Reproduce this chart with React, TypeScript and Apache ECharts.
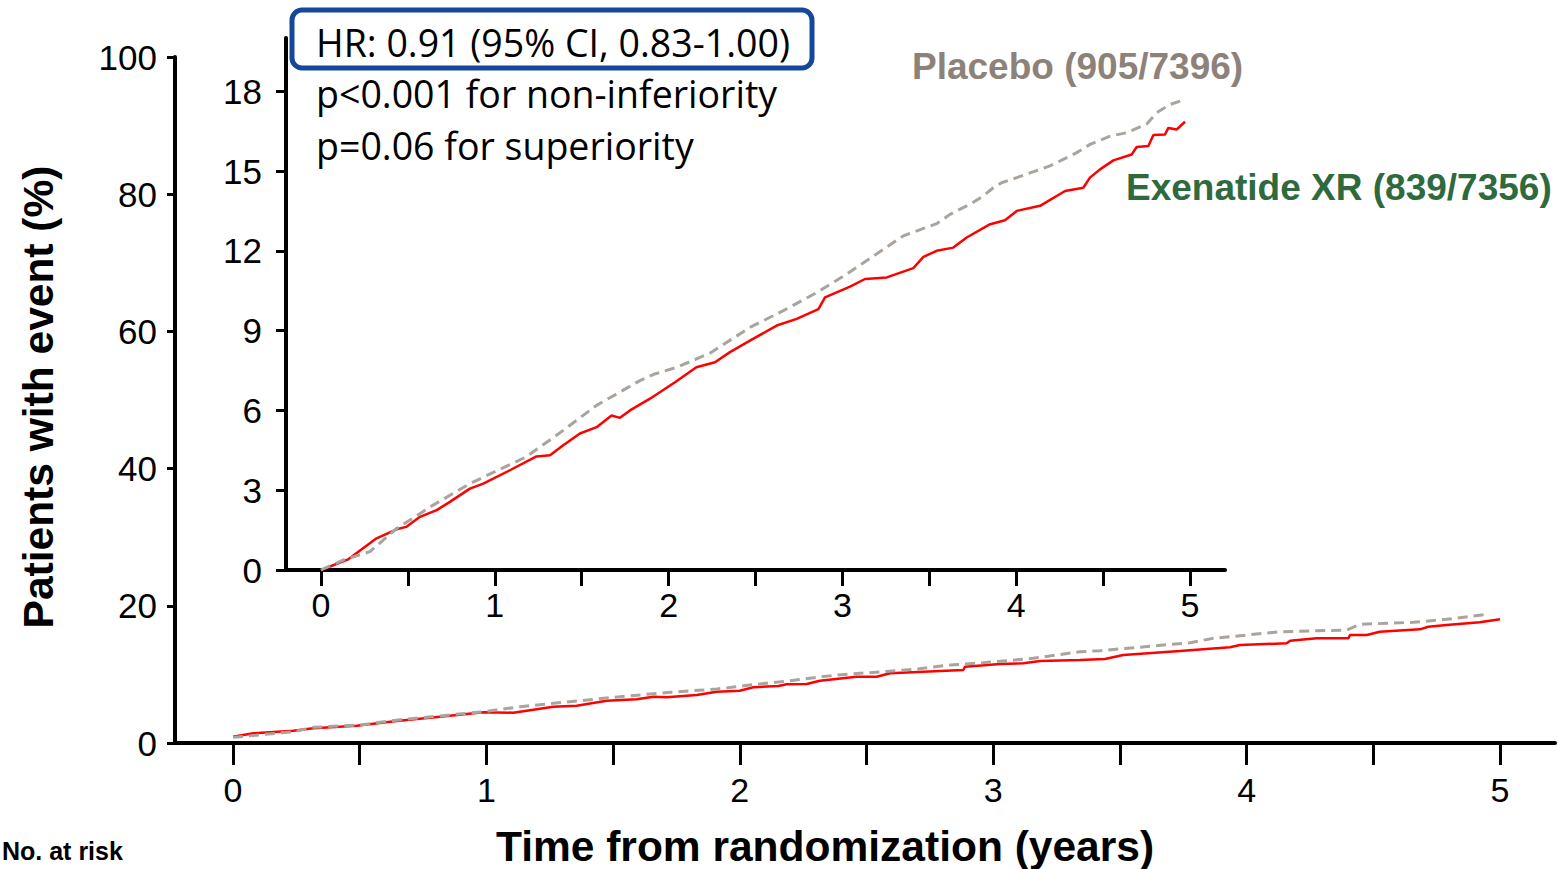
import React, { useEffect, useRef } from "react";
import * as echarts from "echarts";

// ---- data (years, % patients with event) ----
const mainXTicks = [0, 0.5, 1, 1.5, 2, 2.5, 3, 3.5, 4, 4.5, 5];
const mainXLabels = [0, 1, 2, 3, 4, 5];
const mainYLabels = [0, 20, 40, 60, 80, 100];
const insetXTicks = [0, 0.5, 1, 1.5, 2, 2.5, 3, 3.5, 4, 4.5, 5];
const insetXLabels = [0, 1, 2, 3, 4, 5];
const insetYLabels = [0, 3, 6, 9, 12, 15, 18];

const mainExenatide: [number, number][] = [
  [0, 0.92], [0.08, 1.41], [0.238, 1.79], [0.317, 2.14], [0.488, 2.52], [0.646, 3.2],
  [0.817, 3.83], [0.988, 4.47], [1.106, 4.42], [1.264, 5.29], [1.356, 5.44], [1.475, 6.17],
  [1.593, 6.37], [1.659, 6.75], [1.711, 6.66], [1.83, 7.0], [1.909, 7.48], [2.0, 7.62],
  [2.053, 8.12], [2.152, 8.31], [2.185, 8.55], [2.264, 8.6], [2.316, 9.08], [2.461, 9.67],
  [2.54, 9.67], [2.593, 10.16], [2.724, 10.4], [2.882, 10.64], [2.889, 11.12], [3.027, 11.52],
  [3.119, 11.62], [3.185, 11.95], [3.343, 12.1], [3.441, 12.24], [3.513, 12.83], [3.737, 13.41],
  [3.934, 13.95], [3.974, 14.29], [4.158, 14.53], [4.172, 14.91], [4.277, 15.26], [4.402, 15.26],
  [4.408, 15.74], [4.474, 15.74], [4.526, 16.22], [4.684, 16.57], [4.717, 16.95], [4.789, 17.2],
  [4.92, 17.6], [5.0, 18.03],
];
const mainPlacebo: [number, number][] = [
  [0, 0.82], [0.238, 1.65], [0.317, 2.28], [0.5, 2.62], [0.659, 3.4], [0.988, 4.56],
  [1.133, 5.29], [1.264, 5.78], [1.527, 6.75], [1.725, 7.39], [1.909, 7.87], [2.04, 8.45],
  [2.198, 9.08], [2.382, 9.91], [2.566, 10.4], [2.698, 10.79], [2.83, 11.37], [2.961, 11.7],
  [3.158, 12.34], [3.343, 13.31], [3.422, 13.45], [3.777, 14.62], [3.869, 15.26], [4.132, 16.22],
  [4.395, 16.47], [4.447, 17.3], [4.658, 17.6], [4.789, 18.03], [4.947, 18.76],
];
const insetExenatide: [number, number][] = [
  [0, 0], [0.157, 0.4], [0.32, 1.19], [0.435, 1.53], [0.49, 1.62], [0.57, 2.0], [0.666, 2.25],
  [0.742, 2.56], [0.857, 3.06], [0.934, 3.25], [1.087, 3.75], [1.24, 4.27], [1.318, 4.31],
  [1.394, 4.69], [1.49, 5.13], [1.586, 5.37], [1.672, 5.81], [1.72, 5.72], [1.778, 6.0],
  [1.893, 6.44], [2.037, 7.06], [2.16, 7.62], [2.267, 7.81], [2.353, 8.19], [2.468, 8.62],
  [2.622, 9.19], [2.737, 9.44], [2.862, 9.81], [2.9, 10.25], [3.044, 10.65], [3.13, 10.94],
  [3.255, 11.0], [3.408, 11.35], [3.466, 11.77], [3.542, 12.0], [3.638, 12.12], [3.715, 12.5],
  [3.85, 13.0], [3.935, 13.15], [4.003, 13.5], [4.137, 13.69], [4.281, 14.25], [4.386, 14.37],
  [4.424, 14.75], [4.482, 15.06], [4.559, 15.4], [4.664, 15.62], [4.693, 15.9], [4.76, 15.94],
  [4.789, 16.35], [4.856, 16.37], [4.875, 16.62], [4.923, 16.56], [4.971, 16.85],
];
const insetPlacebo: [number, number][] = [
  [0, 0], [0.128, 0.375], [0.282, 0.69], [0.435, 1.56], [0.646, 2.44], [0.857, 3.25],
  [1.18, 4.25], [1.394, 5.25], [1.586, 6.19], [1.835, 7.12], [1.92, 7.37], [2.047, 7.62],
  [2.238, 8.15], [2.468, 9.12], [2.66, 9.75], [2.852, 10.43], [3.024, 11.12], [3.35, 12.56],
  [3.542, 13.02], [3.619, 13.37], [3.734, 13.75], [3.81, 14.06], [3.868, 14.37], [3.916, 14.56],
  [4.003, 14.75], [4.194, 15.19], [4.348, 15.69], [4.425, 16.0], [4.54, 16.31], [4.636, 16.44],
  [4.751, 16.77], [4.808, 17.19], [4.885, 17.5], [4.971, 17.69],
];

const annotationLines = [
  "HR: 0.91 (95% CI, 0.83-1.00)",
  "p<0.001 for non-inferiority",
  "p=0.06 for superiority",
];
const placeboLabel = "Placebo (905/7396)";
const exenatideLabel = "Exenatide XR (839/7356)";
const xTitle = "Time from randomization (years)";
const yTitle = "Patients with event (%)";
const riskLabel = "No. at risk";

const ARIAL = "'Liberation Sans', Arial, sans-serif";
const RED = "#ff0000";
const GREY = "#aaa49d";

export default function App() {
  const ref = useRef<HTMLDivElement>(null);
  useEffect(() => {
    if (!ref.current) return;
    const chart = echarts.init(ref.current, undefined, { renderer: "svg" });
    const axisLine = { show: true, onZero: false, lineStyle: { color: "#000", width: 4 } };
    const option: any = {
      animation: false,
      backgroundColor: "#fff",
      grid: [
        { left: 175, top: 57, width: 1380, height: 686 },
        { left: 286, top: 38, width: 939, height: 532 },
      ],
      xAxis: [
        {
          type: "value", gridIndex: 0, min: -0.229, max: 5.217,
          axisLine,
          axisTick: { show: true, inside: false, length: 22, lineStyle: { color: "#000", width: 3 }, customValues: mainXTicks },
          axisLabel: { customValues: mainXLabels, margin: 30, fontSize: 34, color: "#000", fontFamily: ARIAL },
          splitLine: { show: false },
        },
        {
          type: "value", gridIndex: 1, min: -0.201, max: 5.201,
          axisLine,
          axisTick: { show: true, length: 16, lineStyle: { color: "#000", width: 3 }, customValues: insetXTicks },
          axisLabel: { customValues: insetXLabels, margin: 18, fontSize: 34, color: "#000", fontFamily: ARIAL },
          splitLine: { show: false },
        },
      ],
      yAxis: [
        {
          type: "value", gridIndex: 0, min: 0, max: 100,
          axisLine,
          axisTick: { show: true, length: 8, lineStyle: { color: "#000", width: 3 }, customValues: mainYLabels },
          axisLabel: { customValues: mainYLabels, margin: 18, fontSize: 35, color: "#000", fontFamily: ARIAL },
          splitLine: { show: false },
        },
        {
          type: "value", gridIndex: 1, min: 0, max: 20,
          axisLine,
          axisTick: { show: true, length: 10, lineStyle: { color: "#000", width: 3 }, customValues: insetYLabels },
          axisLabel: { customValues: insetYLabels, margin: 24, fontSize: 35, color: "#000", fontFamily: ARIAL },
          splitLine: { show: false },
        },
      ],
      series: [
        {
          type: "line", xAxisIndex: 0, yAxisIndex: 0, data: mainExenatide, symbol: "none",
          lineStyle: { color: RED, width: 2.5 }, z: 3,
        },
        {
          type: "line", xAxisIndex: 0, yAxisIndex: 0, data: mainPlacebo, symbol: "none",
          lineStyle: { color: GREY, width: 3, type: [10, 6] }, z: 4,
        },
        {
          type: "line", xAxisIndex: 1, yAxisIndex: 1, data: insetExenatide, symbol: "none",
          lineStyle: { color: RED, width: 2.5 }, z: 3,
        },
        {
          type: "line", xAxisIndex: 1, yAxisIndex: 1, data: insetPlacebo, symbol: "none",
          lineStyle: { color: GREY, width: 3, type: [10, 6] }, z: 4,
        },
      ],
      graphic: [
        {
          type: "rect", shape: { x: 292, y: 10, width: 520, height: 58, r: 10 },
          style: { fill: "none", stroke: "#15479b", lineWidth: 5 }, z: 10,
        },
        ...annotationLines.map((t, i) => ({
          type: "text", x: 316, y: 42 + i * 51.5,
          style: { text: t, fill: "#000", fontSize: 37.5, fontFamily: "'Open Sans', sans-serif", verticalAlign: "middle", align: "left" },
          z: 10,
        })),
        {
          type: "text", x: 912, y: 66,
          style: { text: placeboLabel, fill: "#8c8279", fontSize: 37, fontWeight: "bold", fontFamily: ARIAL, verticalAlign: "middle", align: "left" },
        },
        {
          type: "text", x: 1126, y: 187,
          style: { text: exenatideLabel, fill: "#2e6a3e", fontSize: 37, fontWeight: "bold", fontFamily: ARIAL, verticalAlign: "middle", align: "left" },
        },
        {
          type: "text", x: 825, y: 846,
          style: { text: xTitle, fill: "#000", fontSize: 42.5, fontWeight: "bold", fontFamily: ARIAL, verticalAlign: "middle", align: "center" },
        },
        {
          type: "text", x: 38, y: 397, rotation: Math.PI / 2,
          style: { text: yTitle, fill: "#000", fontSize: 42.5, fontWeight: "bold", fontFamily: ARIAL, verticalAlign: "middle", align: "center" },
        },
        {
          type: "text", x: 2, y: 851,
          style: { text: riskLabel, fill: "#000", fontSize: 25, fontWeight: "bold", fontFamily: ARIAL, verticalAlign: "middle", align: "left" },
        },
      ],
    };
    chart.setOption(option);
    return () => chart.dispose();
  }, []);
  return (
    <div
      ref={ref}
      style={{ position: "fixed", left: 0, top: 0, width: 1558, height: 869 }}
    />
  );
}
